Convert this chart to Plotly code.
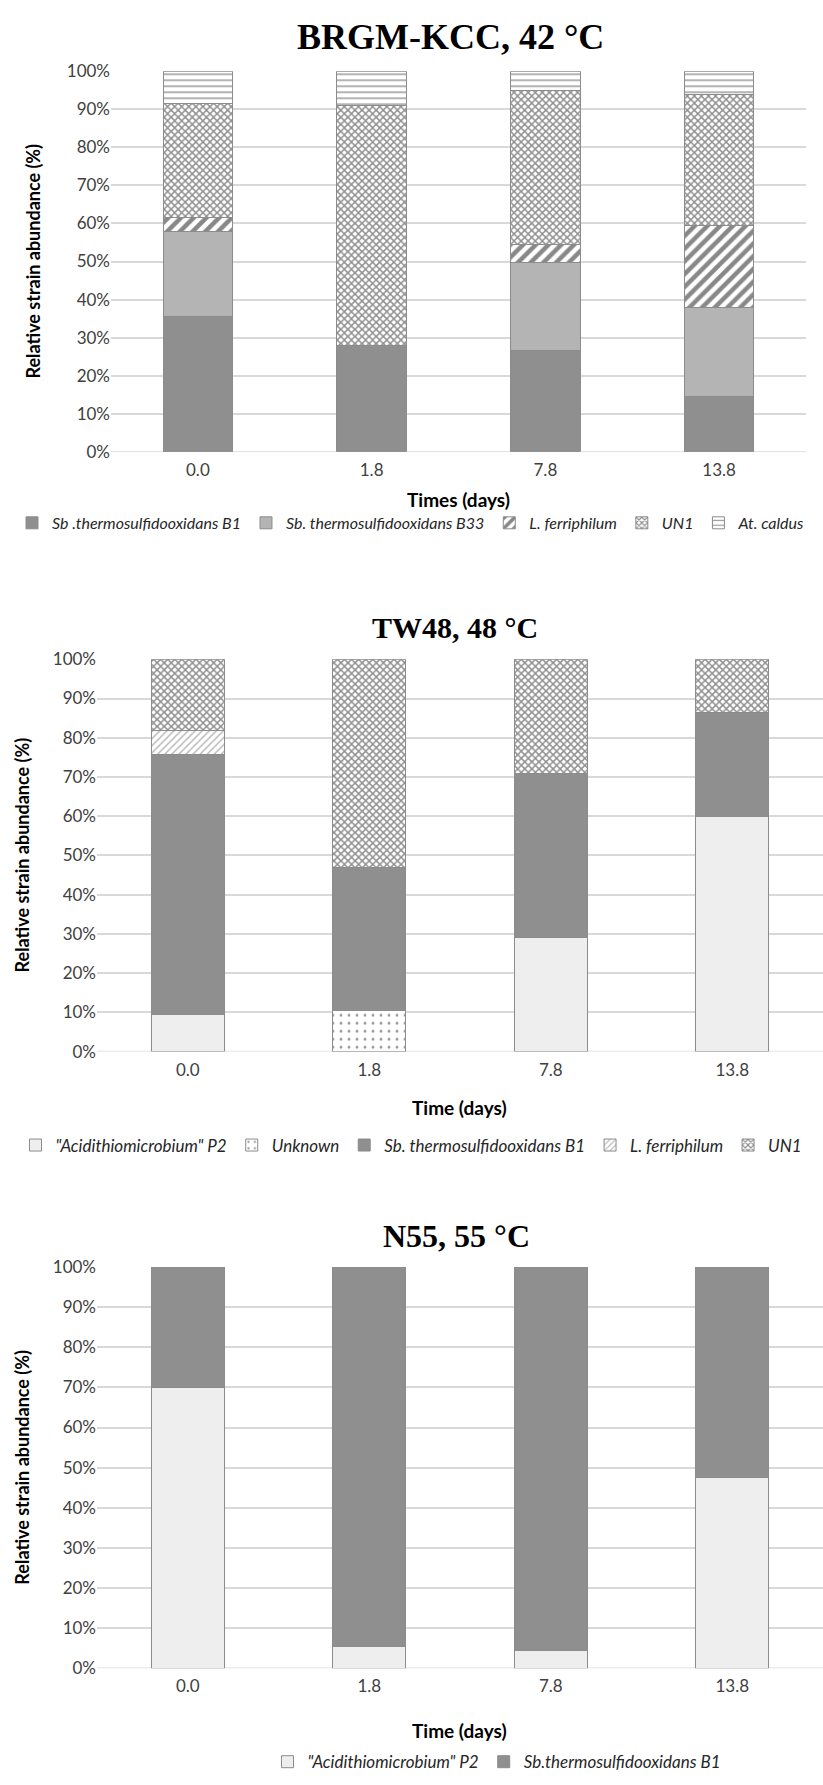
import plotly.graph_objects as go

W, H = 823, 1785

# ---- data ----
times = ["0.0", "1.8", "7.8", "13.8"]
yticks = list(range(0, 101, 10))
ytick_labels = [f"{v}%" for v in yticks]

# BRGM-KCC, 42 °C
kcc_b1 = [35.5, 28.0, 26.5, 14.5]
kcc_b33 = [22.5, 0.0, 23.2, 23.5]
kcc_lferr = [3.5, 0.0, 4.8, 21.5]
kcc_un1 = [30.0, 63.0, 40.5, 34.5]
kcc_atc = [8.5, 9.0, 5.0, 6.0]

# TW48, 48 °C
tw_p2 = [9.5, 0.0, 29.0, 60.0]
tw_unknown = [0.0, 10.5, 0.0, 0.0]
tw_b1 = [66.2, 36.5, 42.0, 26.5]
tw_lferr = [6.2, 0.0, 0.0, 0.0]
tw_un1 = [18.1, 53.0, 29.0, 13.5]

# N55, 55 °C
n55_p2 = [70.0, 5.5, 4.5, 47.5]
n55_b1 = [30.0, 94.5, 95.5, 52.5]

# ---- styling ----
TICK_FONT = dict(family="Lato", size=17, color="#404040")
YT_FONT = dict(family="Lato", size=18, color="#000000", weight="bold")
XT_FONT = dict(family="Lato", size=19, color="#000000", weight="bold")
EDGE = dict(color="#8c8c8c", width=1)
GRID = "#d9d9d9"


def py(px):
    """Convert a pixel row (from the top) into paper coordinates."""
    return 1 - px / H


def solid(color):
    return dict(color=color, line=EDGE)


def patterned(shape, fg, size, solidity, bg="#ffffff"):
    return dict(color=bg, line=EDGE,
                pattern=dict(shape=shape, fgcolor=fg, bgcolor=bg,
                             size=size, solidity=solidity, fillmode="overlay"))


fig = go.Figure()


def add(series, name, marker, xa, ya, legend):
    fig.add_trace(go.Bar(x=times, y=series, name=f"<i>{name}</i>", marker=marker,
                         xaxis=xa, yaxis=ya, legend=legend, width=0.4))


UN1_STYLE = ("x", "#222222", 5, 0.5)

# panel 1
add(kcc_b1, "Sb .thermosulfidooxidans B1", solid("#8f8f8f"), "x", "y", "legend")
add(kcc_b33, "Sb. thermosulfidooxidans B33", solid("#b4b4b4"), "x", "y", "legend")
add(kcc_lferr, "L. ferriphilum", patterned("/", "#111111", 9, 0.5), "x", "y", "legend")
add(kcc_un1, "UN1", patterned(*UN1_STYLE), "x", "y", "legend")
add(kcc_atc, "At. caldus", patterned("-", "#333333", 6, 0.25), "x", "y", "legend")

# panel 2
add(tw_p2, '"Acidithiomicrobium" P2', solid("#eeeeee"), "x2", "y2", "legend2")
add(tw_unknown, "Unknown", patterned(".", "#333333", 8, 0.1), "x2", "y2", "legend2")
add(tw_b1, "Sb. thermosulfidooxidans B1", solid("#8f8f8f"), "x2", "y2", "legend2")
add(tw_lferr, "L. ferriphilum", patterned("/", "#777777", 5, 0.3), "x2", "y2", "legend2")
add(tw_un1, "UN1", patterned(*UN1_STYLE), "x2", "y2", "legend2")

# panel 3
add(n55_p2, '"Acidithiomicrobium" P2', solid("#eeeeee"), "x3", "y3", "legend3")
add(n55_b1, "Sb.thermosulfidooxidans B1", solid("#8f8f8f"), "x3", "y3", "legend3")

# panel geometry in pixels: (left, right, top, bottom)
panels = [
    (111, 806, 61, 446),
    (97, 823, 656, 1053),
    (97, 823, 1271, 1677),
]

axis_common_x = dict(type="category", showgrid=False, showline=False, zeroline=False,
                     ticks="", tickfont=TICK_FONT, fixedrange=True, ticklabelstandoff=6)
axis_common_y = dict(range=[0, 100], tickmode="array", tickvals=yticks, ticktext=ytick_labels,
                     showgrid=True, gridcolor=GRID, gridwidth=1.5, zeroline=False,
                     showline=False, ticks="", tickfont=TICK_FONT, fixedrange=True)

layout = dict(width=W, height=H, margin=dict(l=0, r=0, t=0, b=0),
              paper_bgcolor="#ffffff", plot_bgcolor="#ffffff",
              barmode="stack", bargap=0.6, showlegend=True)

for i, (l, r, t, b) in enumerate(panels, start=1):
    sx = "" if i == 1 else str(i)
    layout[f"xaxis{sx}"] = dict(axis_common_x, domain=[l / W, r / W],
                                anchor=f"y{sx}")
    layout[f"yaxis{sx}"] = dict(axis_common_y, domain=[py(b), py(t)],
                                anchor=f"x{sx}")

fig.update_layout(**layout)


def leg_font(size):
    return dict(family="Lato", size=size, color="#262626")


# legends under each panel
leg_base = dict(orientation="h", xanchor="center", yanchor="middle",
                itemwidth=30, bgcolor="rgba(0,0,0,0)", tracegroupgap=0,
                traceorder="normal", itemclick=False, itemdoubleclick=False)
fig.update_layout(
    legend=dict(leg_base, x=0.5, y=py(518), font=leg_font(16)),
    legend2=dict(leg_base, x=0.5, y=py(1148), font=leg_font(17)),
    legend3=dict(leg_base, x=497 / W, y=py(1772), font=leg_font(17)),
)

# 0 % baseline for every panel
for i, (l, r, t, b) in enumerate(panels, start=1):
    sx = "" if i == 1 else str(i)
    fig.add_shape(type="line", xref="paper", yref=f"y{sx}", x0=l / W, x1=r / W,
                  y0=0, y1=0, line=dict(color=GRID, width=1.5), layer="below")

titles = [("BRGM-KCC, 42 °C", 450, 26, 36), ("TW48, 48 °C", 455, 624, 30),
          ("N55, 55 °C", 456, 1240, 32)]
xtitles = [("Times (days)", 458, 494), ("Time (days)", 459, 1110), ("Time (days)", 459, 1740)]
ytitle_x = [33, 22, 22]

for (txt, x, y, size) in titles:
    fig.add_annotation(text=txt, x=x / W, y=py(y), xref="paper", yref="paper",
                       showarrow=False, xanchor="center", yanchor="middle",
                       font=dict(family="Liberation Serif", size=size, color="#000000",
                                 weight="bold"))
for (txt, x, y) in xtitles:
    fig.add_annotation(text=txt, x=x / W, y=py(y), xref="paper", yref="paper",
                       showarrow=False, font=XT_FONT, xanchor="center", yanchor="middle")
for (xpx, (l, r, t, b)) in zip(ytitle_x, panels):
    fig.add_annotation(text="Relative strain abundance (%)", x=xpx / W, y=py((t + b) / 2),
                       xref="paper", yref="paper", showarrow=False, textangle=-90,
                       font=YT_FONT, xanchor="center", yanchor="middle")

fig.write_html("out.html")
